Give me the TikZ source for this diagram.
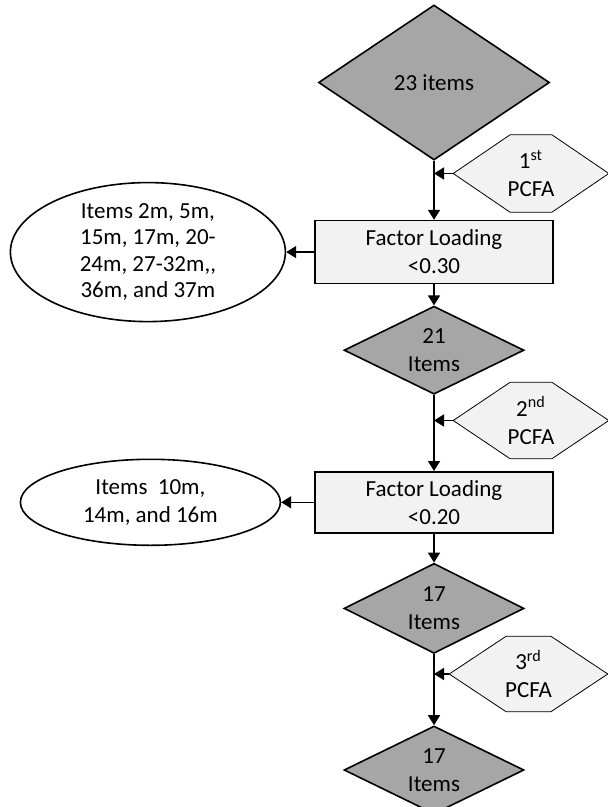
\documentclass[tikz,border=0pt]{standalone}
\usepackage{fontspec}
\setmainfont{Carlito}
\usepackage{tikz}
\usetikzlibrary{shapes.geometric,positioning,arrows.meta,backgrounds}

\definecolor{itemgray}{HTML}{A6A6A6}
\definecolor{stepfill}{HTML}{F2F2F2}

\begin{document}
\begin{tikzpicture}[->,>={Triangle[length=5pt,width=6pt]},line width=0.8pt,x=0.5pt,y=-0.5pt,
  font=\fontsize{11.5}{14}\selectfont,
  items/.style={diamond,draw,fill=itemgray,inner sep=0pt,aspect=2,minimum width=90pt,minimum height=44pt,align=center},
  loading/.style={rectangle,draw,fill=stepfill,inner sep=0pt,minimum width=119pt,minimum height=31pt,align=center},
  pcfa/.style={rectangle,inner sep=0pt,minimum width=77pt,minimum height=38pt,align=center},
  dropped/.style={ellipse,draw,fill=white,inner sep=0pt,align=center}]
  \useasboundingbox (0,0) rectangle (607,807);

  \node[items,aspect=1.5,minimum width=115.5pt,minimum height=77.5pt] (d1) at (434,82.5) {23 items};
  \node[loading,minimum height=31.5pt] (box1) [below=29.5pt of d1] {Factor Loading\\<0.30};
  \node[items] (d2) [below=10.5pt of box1] {21\\Items};
  \node[loading,minimum height=30.5pt] (box2) [below=38pt of d2] {Factor Loading\\<0.20};
  \node[items,minimum height=45pt] (d3) [below=14.5pt of box2] {17\\Items};
  \node[items] (d4) [below=35.5pt of d3] {17\\Items};

  \node[pcfa] (hex1) at (531,173.5) {1\textsuperscript{st}\\PCFA};
  \node[pcfa,minimum height=37.5pt] (hex2) at (531,420.5) {2\textsuperscript{nd}\\PCFA};
  \node[pcfa,minimum width=78.5pt,minimum height=37pt] (hex3) at (528.5,674) {3\textsuperscript{rd}\\PCFA};

  % hexagon outlines behind the PCFA labels
  \begin{scope}[on background layer]
    \foreach \h in {hex1,hex2,hex3}
      \draw[-,fill=stepfill] (\h.west) -- ([xshift=28.5pt]\h.north west) -- ([xshift=-28.5pt]\h.north east)
        -- (\h.east) -- ([xshift=-28.5pt]\h.south east) -- ([xshift=28.5pt]\h.south west) -- cycle;
  \end{scope}

  \node[dropped,minimum width=137.5pt,minimum height=69.5pt,font=\fontsize{11.5}{13.25}\selectfont] (ell1) [left=14pt of box1]
    {Items 2m, 5m,\\15m, 17m, 20-\\24m, 27-32m,\kern0pt,\\36m, and 37m};
  \node[dropped,minimum width=130pt,minimum height=43pt] (ell2) [left=16.5pt of box2]
    {Items\ \ 10m,\\14m, and 16m};

  \coordinate (j1) at (d1.south |- hex1.west);
  \coordinate (j2) at (d2.south |- hex2.west);
  \coordinate (j3) at (d3.south |- hex3.west);

  \path (d1) edge (box1)
        (box1) edge (d2)
        (d2) edge (box2)
        (box2) edge (d3)
        (d3) edge (d4);
  \draw (hex1.west) -- (j1);
  \draw (hex2.west) -- (j2);
  \draw (hex3.west) -- (j3);
  \draw (box1.west) -- (ell1.east);
  \draw (box2.west) -- (ell2.east);
\end{tikzpicture}
\end{document}
